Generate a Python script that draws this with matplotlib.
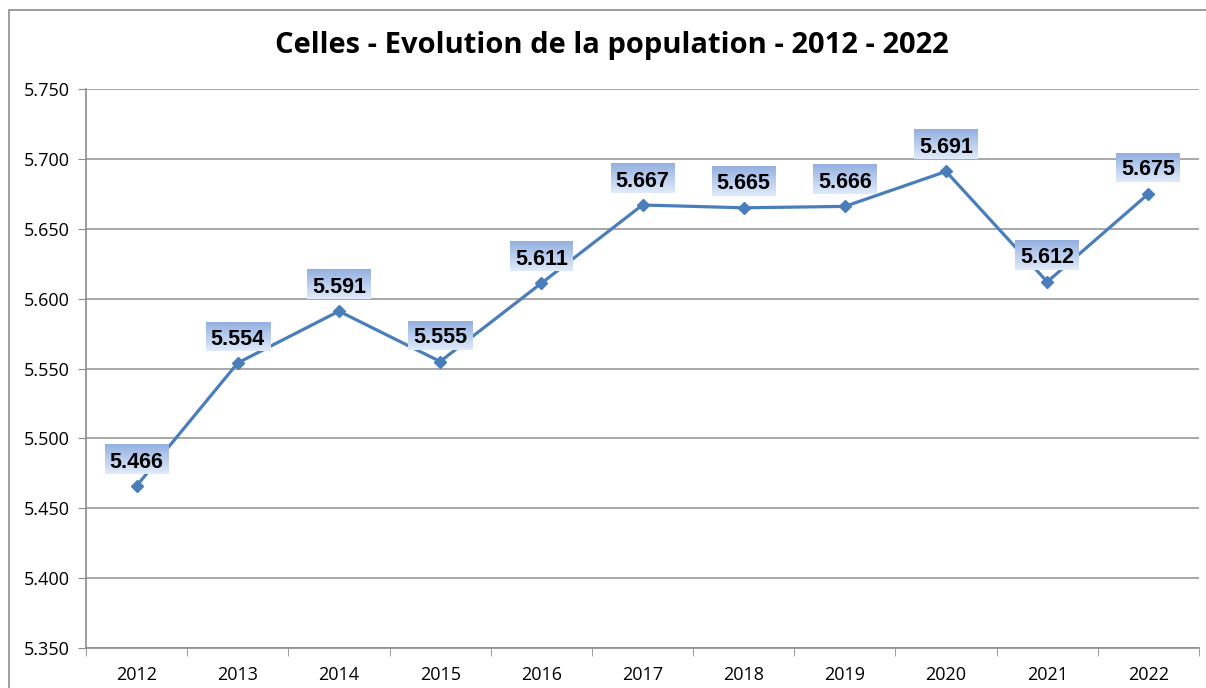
import matplotlib
matplotlib.use("Agg")
import matplotlib.pyplot as plt
from matplotlib.patches import Rectangle
import numpy as np

years = ["2012", "2013", "2014", "2015", "2016", "2017", "2018", "2019", "2020", "2021", "2022"]
population = [5466, 5554, 5591, 5555, 5611, 5667, 5665, 5666, 5691, 5612, 5675]
labels = ["5.466", "5.554", "5.591", "5.555", "5.611", "5.667", "5.665", "5.666", "5.691", "5.612", "5.675"]
yticks = [5350, 5400, 5450, 5500, 5550, 5600, 5650, 5700, 5750]

W, H = 1206, 688
fig = plt.figure(figsize=(W / 100, H / 100), dpi=100)
fig.patch.set_facecolor("white")

# outer chart frame (runs off the right and bottom edges)
fig.patches.append(Rectangle((9 / W, -0.1), 1.2, 1 - 10 / H + 0.1, transform=fig.transFigure,
                             fill=False, edgecolor="#8c8c8c", linewidth=1.2))

ax = fig.add_axes([86 / W, 1 - 648 / H, (1199 - 86) / W, (648 - 89) / H])
x = np.arange(len(years))
ax.plot(x, population, color="#4a7ebb", linewidth=2.3, marker="D", markersize=6.5, zorder=3)

ax.set_xlim(-0.5, len(years) - 0.5)
ax.set_ylim(5350, 5750)
ax.set_yticks(yticks)
ax.set_yticklabels([f"{v / 1000:.3f}" for v in yticks], fontfamily="Open Sans", fontsize=13)
ax.set_xticks(x)
ax.set_xticklabels(years, fontfamily="Open Sans", fontsize=13)
ax.tick_params(axis="x", length=0, pad=13)
ax.tick_params(axis="y", length=6, color="#8c8c8c", pad=6)
ax.set_xticks(np.arange(-0.5, len(years)), minor=True)
ax.tick_params(axis="x", which="minor", length=6, color="#8c8c8c", direction="out")
ax.grid(axis="y", color="#9a9a9a", linewidth=1.2)
ax.set_axisbelow(True)
for s in ["top", "right"]:
    ax.spines[s].set_visible(False)
for s in ["left", "bottom"]:
    ax.spines[s].set_color("#8c8c8c")
    ax.spines[s].set_linewidth(1.2)

fig.text(612 / W, 1 - 45 / H, "Celles - Evolution de la population - 2012 - 2022",
         ha="center", va="center", fontsize=21, fontweight="bold", fontfamily="Open Sans")

# value labels with light blue gradient boxes
texts = []
for xi, yi, lab in zip(x, population, labels):
    t = ax.annotate(lab, (xi, yi), xytext=(0, 19), textcoords="offset points",
                    ha="center", va="center_baseline", fontsize=15.5, fontweight="bold",
                    fontfamily="Liberation Sans", color="black", zorder=6)
    texts.append(t)

fig.canvas.draw()
grad = np.linspace(0, 1, 64).reshape(64, 1, 1)
top_c = np.array([0.58, 0.69, 0.88])
bot_c = np.array([0.88, 0.92, 0.98])
img = top_c + (bot_c - top_c) * grad * np.ones((64, 1, 3))
inv = ax.transData.inverted()
for t, xi, yi in zip(texts, x, population):
    bb = t.get_window_extent()
    cx, cy = ax.transData.transform((xi, yi))
    cy = cy + 26.5
    x0, y0 = inv.transform((bb.x0 - 5, cy - 14.5))
    x1, y1 = inv.transform((bb.x1 + 5, cy + 14.5))
    ax.imshow(img, extent=(x0, x1, y0, y1), origin="upper", aspect="auto", zorder=5,
              interpolation="bilinear")
ax.set_xlim(-0.5, len(years) - 0.5)
ax.set_ylim(5350, 5750)

fig.savefig("out.png", dpi=100)
